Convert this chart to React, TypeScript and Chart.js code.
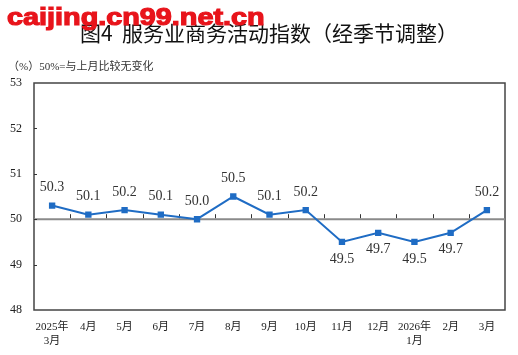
import React, { useEffect, useRef } from "react";
import { Chart, registerables } from "chart.js";

Chart.register(...registerables);

const categories: string[][] = [
  ["2025年", "3月"], ["4月"], ["5月"], ["6月"], ["7月"], ["8月"], ["9月"],
  ["10月"], ["11月"], ["12月"], ["2026年", "1月"], ["2月"], ["3月"],
];
const values: number[] = [50.3, 50.1, 50.2, 50.1, 50.0, 50.5, 50.1, 50.2, 49.5, 49.7, 49.5, 49.7, 50.2];
const yMin = 48;
const yMax = 53;
const baseline = 50;
const titleText = "图4  服务业商务活动指数（经季节调整）";
const subtitleText = "（%）50%=与上月比较无变化";
const watermarkText = "caijing.cn99.net.cn";

const SERIF = "'Liberation Serif', 'Noto Sans CJK SC', serif";

const decorPlugin = {
  id: "decor",
  beforeDatasetsDraw(chart: any) {
    const { ctx, chartArea } = chart;
    const x = chart.scales.x;
    const y = chart.scales.y;
    ctx.save();
    ctx.strokeStyle = "#444";
    ctx.lineWidth = 1.5;
    ctx.strokeRect(chartArea.left, chartArea.top, chartArea.right - chartArea.left, chartArea.bottom - chartArea.top);
    const yb = y.getPixelForValue(baseline);
    ctx.strokeStyle = "#8a8a8a";
    ctx.lineWidth = 2;
    ctx.beginPath();
    ctx.moveTo(chartArea.left, yb);
    ctx.lineTo(chartArea.right, yb);
    ctx.stroke();
    ctx.strokeStyle = "#333";
    ctx.lineWidth = 1;
    const n = categories.length;
    for (let i = 1; i < n; i++) {
      const px = Math.round((x.getPixelForValue(i - 1) + x.getPixelForValue(i)) / 2) + 0.5;
      ctx.beginPath();
      ctx.moveTo(px, yb - 1);
      ctx.lineTo(px, yb - 5);
      ctx.stroke();
    }
    for (let v = yMin + 1; v < yMax; v++) {
      const py = Math.round(y.getPixelForValue(v)) + 0.5;
      ctx.beginPath();
      ctx.moveTo(chartArea.left, py);
      ctx.lineTo(chartArea.left + 3, py);
      ctx.stroke();
    }
    ctx.restore();
  },
  afterDatasetsDraw(chart: any) {
    const { ctx } = chart;
    const meta = chart.getDatasetMeta(0);
    ctx.save();
    ctx.font = "14px " + SERIF;
    ctx.fillStyle = "#333";
    ctx.textAlign = "center";
    ctx.textBaseline = "middle";
    meta.data.forEach((pt: any, i: number) => {
      const v = values[i];
      const dy = v >= baseline ? -18 : 17;
      ctx.fillText(v.toFixed(1), pt.x, pt.y + dy);
    });
    ctx.restore();
  },
  afterDraw(chart: any) {
    const { ctx } = chart;
    ctx.save();
    ctx.fillStyle = "#111";
    ctx.textAlign = "center";
    ctx.textBaseline = "alphabetic";
    ctx.font = "21px 'Noto Sans CJK SC', sans-serif";
    ctx.fillText(titleText, 269, 41);
    ctx.textAlign = "left";
    ctx.fillStyle = "#333";
    ctx.font = "11px " + SERIF;
    ctx.fillText(subtitleText, 8, 70);
    // watermark (drawn last, overlapping title like the reference)
    ctx.save();
    ctx.translate(7, 25);
    ctx.scale(1.2, 1);
    ctx.fillStyle = "#e8141b";
    ctx.strokeStyle = "#e8141b";
    ctx.lineWidth = 1.2;
    ctx.font = "bold 24px 'Liberation Sans', Arial, sans-serif";
    ctx.fillText(watermarkText, 0, 0);
    ctx.strokeText(watermarkText, 0, 0);
    ctx.restore();
    ctx.restore();
  },
};

export default function App() {
  const ref = useRef<HTMLCanvasElement | null>(null);
  useEffect(() => {
    if (!ref.current) return;
    const chart = new Chart(ref.current, {
      type: "line",
      data: {
        labels: categories,
        datasets: [
          {
            data: values,
            borderColor: "#1f6cc4",
            backgroundColor: "#1f6cc4",
            borderWidth: 2,
            pointStyle: "rect",
            pointRadius: 4.5,
            pointBorderWidth: 0,
            tension: 0,
          },
        ],
      },
      options: {
        animation: false,
        responsive: false,
        devicePixelRatio: 1,
        layout: { padding: { top: 83, right: 13, left: 0, bottom: 0 } },
        plugins: { legend: { display: false }, tooltip: { enabled: false }, title: { display: false } },
        scales: {
          x: {
            offset: true,
            grid: { display: false, drawTicks: false },
            border: { display: false },
            ticks: {
              padding: 10,
              color: "#222",
              font: { size: 11, family: SERIF, lineHeight: 1.3 },
              maxRotation: 0,
              autoSkip: false,
            },
            afterFit(scale: any) {
              scale.height = 45;
            },
          },
          y: {
            min: yMin,
            max: yMax,
            grid: { display: false, drawTicks: false },
            border: { display: false },
            ticks: {
              stepSize: 1,
              padding: 12,
              color: "#222",
              font: { size: 12, family: SERIF },
            },
            afterFit(scale: any) {
              scale.width = 34;
            },
          },
        },
      },
      plugins: [decorPlugin],
    });
    return () => chart.destroy();
  }, []);
  return (
    <div style={{ position: "absolute", left: 0, top: 0, width: 518, height: 355, background: "#fff" }}>
      <canvas ref={ref} width={518} height={355} style={{ width: 518, height: 355 }} />
    </div>
  );
}
